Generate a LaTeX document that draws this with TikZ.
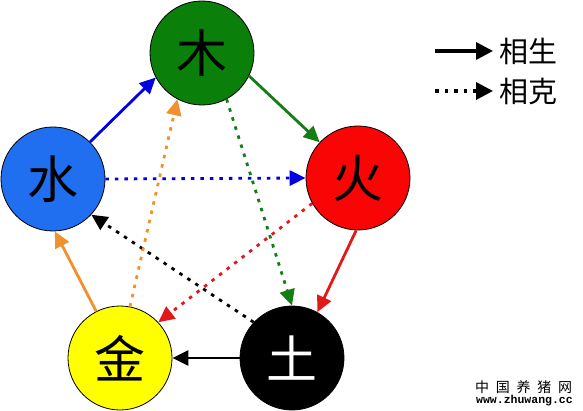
\documentclass[tikz,border=0pt]{standalone}
\usepackage{fontspec}
\usepackage{tikz}
\usetikzlibrary{arrows.meta}
\newfontfamily\cjk{Noto Sans CJK SC}
\newfontfamily\wmfont[LetterSpace=48]{Noto Sans CJK SC}
\setmonofont{Liberation Mono}
\definecolor{shuiblue}{RGB}{31,111,240}
\definecolor{mugreen}{RGB}{10,128,10}
\definecolor{huored}{RGB}{250,5,5}
\definecolor{jinyellow}{RGB}{255,255,0}
\definecolor{arrblue}{RGB}{0,0,225}
\definecolor{arrgreen}{RGB}{20,125,20}
\definecolor{arrred}{RGB}{225,25,25}
\definecolor{arrorange}{RGB}{240,145,45}
\begin{document}
\begin{tikzpicture}
        [
            x = 1pt, y = -1pt,
            element/.style = {circle, draw, line width=0.8pt, minimum size=104pt, inner sep=0pt,
                font=\cjk\fontsize{51}{51}\selectfont},
            sheng/.style = {line width=2.8pt, -{Triangle[length=16pt,width=15pt]}},
            ke/.style = {sheng, dash pattern=on 3.5pt off 6pt},
            legendtext/.style = {right, inner sep=5pt, font=\cjk\fontsize{29}{29}\selectfont}
        ]
        \useasboundingbox (0,0) rectangle (583,411);

        \node[element, fill=mugreen] (mu) at (202,53) {木};
        \node[element, fill=huored] (huo) at (358,178) {火};
        \node[element, fill=black, text=white] (tu) at (292,358) {土};
        \node[element, fill=jinyellow] (jin) at (120,358) {金};
        \node[element, fill=shuiblue] (shui) at (53,179) {水};

        \draw[sheng, arrblue] (shui.45) -- (mu.208);
        \draw[sheng, arrgreen] (mu.334) -- (huo.137);
        \draw[sheng, arrred] (huo.268) -- (tu.61);
        \draw[sheng, black] (tu.180) -- (jin.0);
        \draw[sheng, arrorange] (jin.117) -- (shui.272);

        \draw[ke, arrblue] (shui.0) -- (huo.180);
        \draw[ke, arrgreen] (mu.298) -- (tu.90);
        \draw[ke, arrred] (huo.209) -- (jin.43);
        \draw[ke, black] (tu.137) -- (shui.317);
        \draw[ke, arrorange] (jin.79) -- (mu.242);

        \coordinate (shengA) at (435,51);
        \coordinate (shengB) at (493,51);
        \coordinate (keA) at (435,91);
        \coordinate (keB) at (493,91);
        \draw[sheng, line width=3.5pt, -{Triangle[length=17pt,width=17pt]}] (shengA) -- (shengB)
            node[legendtext] (shengtext) {相生};
        \draw[ke, line width=3.5pt, -{Triangle[length=17pt,width=17pt]}] (keA) -- (keB)
            node[legendtext] (ketext) {相克};

        \node[anchor=base west, inner sep=0pt] (wmname) at (475,392)
            {\wmfont\fontsize{14}{14}\selectfont 中国养猪网};
        \node[anchor=base east, inner sep=0pt] (wmurl) at (573,403)
            {\ttfamily\bfseries\fontsize{11.5}{11.5}\selectfont www.zhuwang.cc};
\end{tikzpicture}
\end{document}
